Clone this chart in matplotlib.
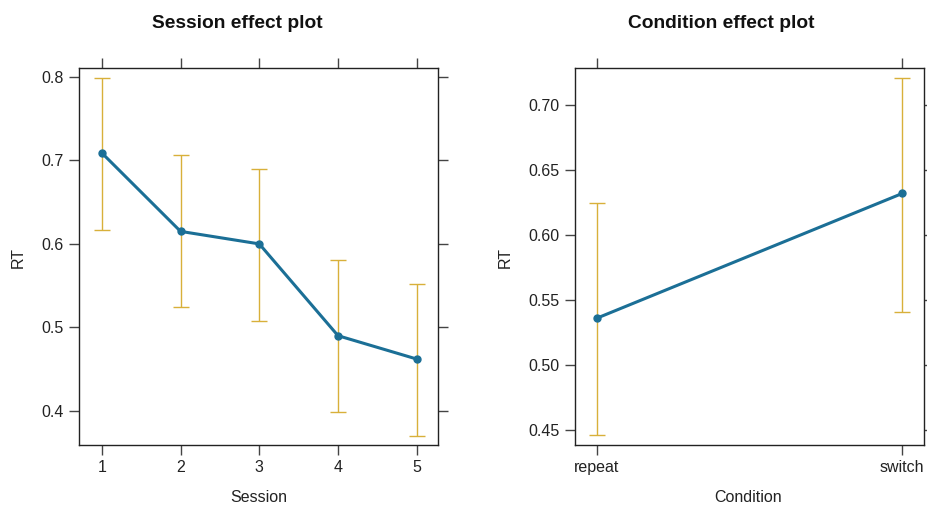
import matplotlib
matplotlib.use("Agg")
import matplotlib.pyplot as plt
import numpy as np

plt.rcParams['font.family'] = ['Liberation Sans', 'DejaVu Sans']

# Session panel data
sessions = [1, 2, 3, 4, 5]
session_fit = [0.709, 0.615, 0.600, 0.490, 0.462]
session_lower = [0.617, 0.524, 0.508, 0.399, 0.370]
session_upper = [0.799, 0.706, 0.690, 0.581, 0.552]
session_yticks = [0.4, 0.5, 0.6, 0.7, 0.8]

# Condition panel data
conditions = ["repeat", "switch"]
condition_fit = [0.536, 0.632]
condition_lower = [0.446, 0.541]
condition_upper = [0.625, 0.721]
condition_yticks = [0.45, 0.50, 0.55, 0.60, 0.65, 0.70]

LINE_C = "#1b6f96"
CI_C = "#d8b03a"
TXT = "#222222"

W, H = 928, 508
fig = plt.figure(figsize=(W / 100, H / 100), dpi=100)


def px_axes(x0, y0, x1, y1):
    return fig.add_axes([x0 / W, 1 - y1 / H, (x1 - x0) / W, (y1 - y0) / H])


def style(ax):
    for s in ax.spines.values():
        s.set_linewidth(1.0)
        s.set_color("#222222")
    ax.tick_params(axis="both", which="both", direction="out", length=7,
                   width=1.0, color="#444444", labelsize=11.5,
                   labelcolor=TXT, top=True, right=True,
                   labeltop=False, labelright=False, pad=4)


# Left panel
ax1 = px_axes(79, 68, 438, 445)
x = np.array(sessions, dtype=float)
fit = np.array(session_fit)
ax1.errorbar(x, fit, yerr=[fit - np.array(session_lower), np.array(session_upper) - fit],
             fmt="none", ecolor=CI_C, elinewidth=1.0, capsize=6, capthick=1.0, zorder=2)
ax1.plot(x, fit, color=LINE_C, lw=2.2, marker="o", ms=5, mfc=LINE_C, mec=LINE_C, zorder=3)
ax1.set_xlim(0.71, 5.27)
ax1.set_ylim(0.359, 0.8108)
ax1.set_xticks(sessions)
ax1.set_yticks(session_yticks)
ax1.set_yticklabels([f"{v:.1f}" for v in session_yticks])
style(ax1)

# Right panel
ax2 = px_axes(575, 68, 924, 445)
xc = np.arange(len(conditions), dtype=float)
cfit = np.array(condition_fit)
ax2.errorbar(xc, cfit, yerr=[cfit - np.array(condition_lower), np.array(condition_upper) - cfit],
             fmt="none", ecolor=CI_C, elinewidth=1.0, capsize=6, capthick=1.0, zorder=2)
ax2.plot(xc, cfit, color=LINE_C, lw=2.2, marker="o", ms=5, mfc=LINE_C, mec=LINE_C, zorder=3)
ax2.set_xlim(-0.071, 1.071)
ax2.set_ylim(0.4385, 0.7285)
ax2.set_xticks(xc)
ax2.set_xticklabels(conditions)
ax2.set_yticks(condition_yticks)
ax2.set_yticklabels([f"{v:.2f}" for v in condition_yticks])
style(ax2)

# Titles and labels
fig.text(237 / W, 1 - 24 / H, "Session effect plot", ha="center", va="center",
         fontsize=13.8, fontweight="bold", color="#111111")
fig.text(721 / W, 1 - 24 / H, "Condition effect plot", ha="center", va="center",
         fontsize=13.8, fontweight="bold", color="#111111")
fig.text(18 / W, 1 - 257 / H, "RT", rotation=90, ha="center", va="center",
         fontsize=11.5, color=TXT)
fig.text(505 / W, 1 - 257 / H, "RT", rotation=90, ha="center", va="center",
         fontsize=11.5, color=TXT)
fig.text(259 / W, 1 - 497 / H, "Session", ha="center", va="center",
         fontsize=11.5, color=TXT)
fig.text(748 / W, 1 - 497 / H, "Condition", ha="center", va="center",
         fontsize=11.5, color=TXT)

fig.savefig("out.png", dpi=100)
